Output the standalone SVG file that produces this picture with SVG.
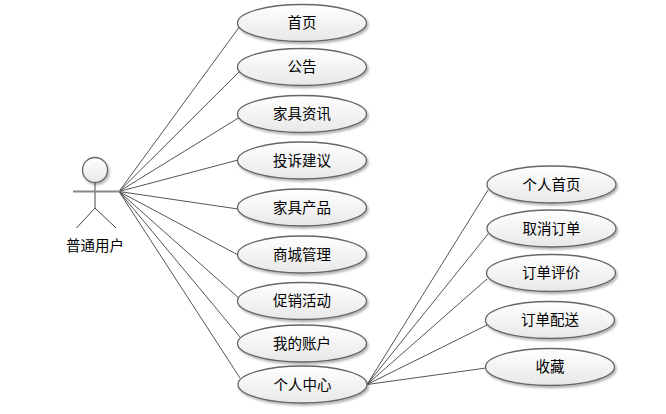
<svg xmlns="http://www.w3.org/2000/svg" width="666" height="414" viewBox="0 0 666 414">
<style>
text{font-family:"Noto Sans CJK SC","Liberation Sans",sans-serif;font-size:14.5px;fill:#000;text-anchor:middle}
.u{fill:url(#g);stroke:#666;stroke-width:1.3;filter:url(#s)}
.c line{stroke:#555;stroke-width:1}
.a line{stroke:#444;stroke-width:1}
</style>
<defs>
<linearGradient id="g" x1="0" y1="0" x2="0" y2="1"><stop offset="0" stop-color="#fff"/><stop offset="1" stop-color="#e8e8e8"/></linearGradient>
<filter id="s" x="-10%" y="-20%" width="125%" height="150%"><feDropShadow dx="1.5" dy="2" stdDeviation="1.2" flood-color="#000" flood-opacity=".3"/></filter>
</defs>
<rect width="666" height="414" fill="#fff"/>
<g id="connectors" class="c">
<line x1="119" y1="191.5" x2="240" y2="26"/>
<line x1="119" y1="191.5" x2="240" y2="71"/>
<line x1="119" y1="191.5" x2="240" y2="117"/>
<line x1="119" y1="191.5" x2="238" y2="160"/>
<line x1="119" y1="191.5" x2="238" y2="209"/>
<line x1="119" y1="191.5" x2="240" y2="256"/>
<line x1="119" y1="191.5" x2="241" y2="300"/>
<line x1="119" y1="191.5" x2="240" y2="337"/>
<line x1="119" y1="191.5" x2="240" y2="378"/>
<line x1="367" y1="384.5" x2="488" y2="190"/>
<line x1="367" y1="384.5" x2="488" y2="234"/>
<line x1="367" y1="384.5" x2="487" y2="279"/>
<line x1="367" y1="384.5" x2="487" y2="325"/>
<line x1="367" y1="384.5" x2="486" y2="368"/>
</g>
<g id="actor" class="a">
<circle cx="95" cy="170" r="12.5" class="u"/>
<line x1="95" y1="182.5" x2="95" y2="208"/>
<line x1="73" y1="191.5" x2="120" y2="191.5" style="stroke:#888;stroke-width:2"/>
<line x1="95" y1="208" x2="76.5" y2="228"/>
<line x1="95" y1="208" x2="116" y2="228"/>
<text x="95" y="251">普通用户</text>
</g>
<g id="n1"><ellipse class="u" cx="302" cy="23" rx="64.5" ry="18.5"/><text x="302" y="28">首页</text></g>
<g id="n2"><ellipse class="u" cx="302" cy="67" rx="64.5" ry="18.5"/><text x="302" y="72">公告</text></g>
<g id="n3"><ellipse class="u" cx="302" cy="114" rx="64.5" ry="18.5"/><text x="302" y="119">家具资讯</text></g>
<g id="n4"><ellipse class="u" cx="302" cy="160.5" rx="64.5" ry="18.5"/><text x="302" y="165.5">投诉建议</text></g>
<g id="n5"><ellipse class="u" cx="302" cy="207.5" rx="64.5" ry="18.5"/><text x="302" y="212.5">家具产品</text></g>
<g id="n6"><ellipse class="u" cx="302" cy="254.5" rx="64.5" ry="18.5"/><text x="302" y="259.5">商城管理</text></g>
<g id="n7"><ellipse class="u" cx="302" cy="301" rx="64.5" ry="18.5"/><text x="302" y="306">促销活动</text></g>
<g id="n8"><ellipse class="u" cx="302" cy="343.5" rx="64.5" ry="18.5"/><text x="302" y="348.5">我的账户</text></g>
<g id="n9"><ellipse class="u" cx="302.5" cy="384.5" rx="64.5" ry="18.5"/><text x="302.5" y="389.5">个人中心</text></g>
<g id="n10"><ellipse class="u" cx="551.5" cy="184.5" rx="64.5" ry="18.5"/><text x="551.5" y="189.5">个人首页</text></g>
<g id="n11"><ellipse class="u" cx="551.5" cy="228.5" rx="64.5" ry="18.5"/><text x="551.5" y="233.5">取消订单</text></g>
<g id="n12"><ellipse class="u" cx="551" cy="273" rx="64.5" ry="18.5"/><text x="551" y="278">订单评价</text></g>
<g id="n13"><ellipse class="u" cx="550" cy="320" rx="64.5" ry="18.5"/><text x="550" y="325">订单配送</text></g>
<g id="n14"><ellipse class="u" cx="550" cy="367" rx="64.5" ry="18.5"/><text x="550" y="372">收藏</text></g>
</svg>
